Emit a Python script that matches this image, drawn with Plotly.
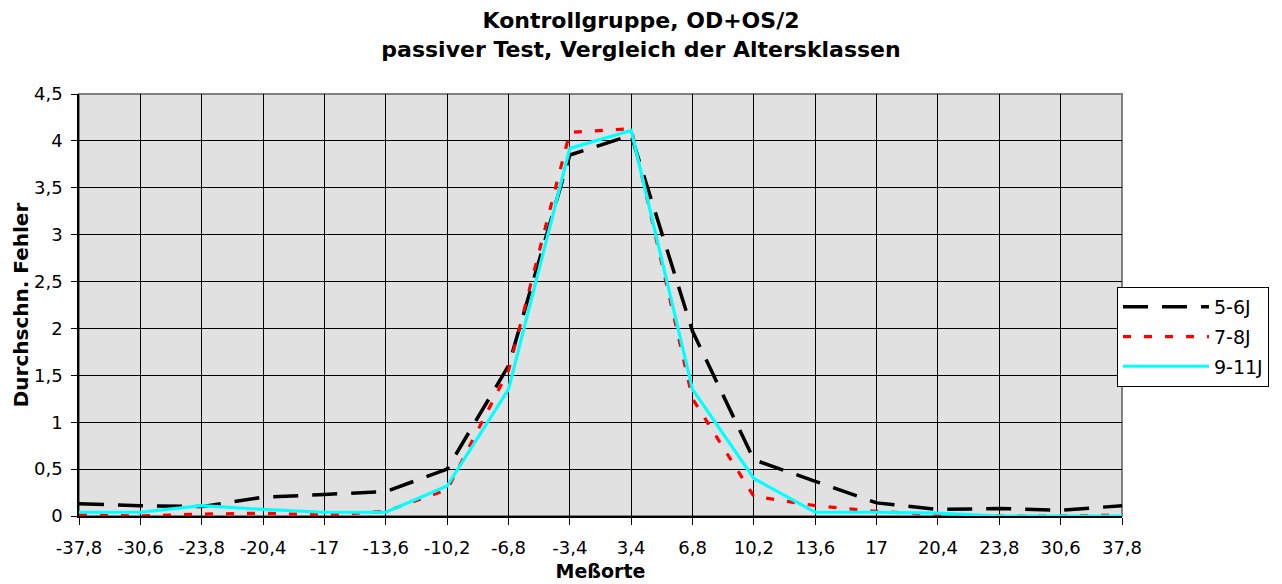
import plotly.graph_objects as go

# Data
x_labels = ["-37,8", "-30,6", "-23,8", "-20,4", "-17", "-13,6", "-10,2", "-6,8", "-3,4",
            "3,4", "6,8", "10,2", "13,6", "17", "20,4", "23,8", "30,6", "37,8"]
series_names = ["5-6J", "7-8J", "9-11J"]
vals_5_6 = [0.13, 0.11, 0.10, 0.20, 0.23, 0.26, 0.50, 1.60, 3.85, 4.06, 1.97, 0.60, 0.37, 0.14, 0.07, 0.08, 0.06, 0.11]
vals_7_8 = [0.01, 0.00, 0.02, 0.03, 0.01, 0.05, 0.28, 1.55, 4.09, 4.13, 1.25, 0.21, 0.11, 0.05, 0.01, 0.00, 0.00, 0.01]
vals_9_11 = [0.04, 0.04, 0.11, 0.07, 0.04, 0.04, 0.32, 1.35, 3.92, 4.11, 1.35, 0.40, 0.04, 0.04, 0.03, 0.00, 0.00, 0.00]
y_ticks = [0, 0.5, 1, 1.5, 2, 2.5, 3, 3.5, 4, 4.5]

FONT = "DejaVu Sans"
OFF = 8  # default page body margin in the browser
W, H = 1282 - OFF, 584 - OFF

fig = go.Figure()
fig.add_trace(go.Scatter(x=x_labels, y=vals_5_6, name=series_names[0], mode="lines",
                         legendgroup="g1",
                         line=dict(color="black", width=3.5, dash="25px,14px")))
fig.add_trace(go.Scatter(x=x_labels, y=vals_7_8, name=series_names[1], mode="lines",
                         legendgroup="g2",
                         line=dict(color="#FF0000", width=3.2, dash="8px,13px")))
fig.add_trace(go.Scatter(x=x_labels, y=vals_9_11, name=series_names[2], mode="lines",
                         legendgroup="g3",
                         line=dict(color="#00FFFF", width=3.2)))

fig.update_layout(
    width=W, height=H, autosize=False,
    margin=dict(l=79 - OFF, r=160, t=94 - OFF, b=(584 - OFF) - 516 + OFF, pad=0),
    paper_bgcolor="white", plot_bgcolor="#E1E1E1",
    separators=",.",
    font=dict(family=FONT, color="black", size=18),
    title=dict(text="<b>Kontrollgruppe, OD+OS/2<br>passiver Test, Vergleich der Altersklassen</b>",
               x=(641 - OFF) / W, xanchor="center", xref="container",
               y=1 - 20 / H, yanchor="middle", yref="container",
               font=dict(family=FONT, size=22, color="black")),
    showlegend=True,
    legend=dict(x=(1117 - 79) / 1043, xanchor="left", y=(516 - 287) / 422, yanchor="top",
                bgcolor="white", bordercolor="black", borderwidth=1,
                font=dict(family=FONT, size=19, color="black"),
                itemwidth=86, tracegroupgap=2),
    shapes=[dict(type="rect", xref="paper", yref="paper", x0=0, x1=1, y0=0, y1=1,
                 line=dict(color="#808080", width=2), layer="between")],
)

fig.update_xaxes(
    type="category", categoryorder="array", categoryarray=x_labels,
    range=[0, len(x_labels) - 1], automargin=False,
    showgrid=True, gridcolor="black", gridwidth=1,
    showline=True, linecolor="black", linewidth=1.5,
    ticks="outside", ticklen=7, tickcolor="black", tickwidth=1,
    tickfont=dict(family=FONT, size=18, color="black"),
    ticklabelstandoff=8,
    title=dict(text="<b>Meßorte</b>", font=dict(family=FONT, size=19, color="black"), standoff=7),
    zeroline=False, fixedrange=True,
)
fig.update_yaxes(
    range=[0, 4.5], tickvals=y_ticks, automargin=False,
    showgrid=True, gridcolor="black", gridwidth=1,
    showline=True, linecolor="black", linewidth=1.5,
    ticks="outside", ticklen=6, tickcolor="black", tickwidth=1,
    tickfont=dict(family=FONT, size=18, color="black"),
    ticklabelstandoff=5,
    title=dict(text="<b>Durchschn. Fehler</b>", font=dict(family=FONT, size=20, color="black"), standoff=0),
    zeroline=False, fixedrange=True,
)

fig.write_html("out.html")
